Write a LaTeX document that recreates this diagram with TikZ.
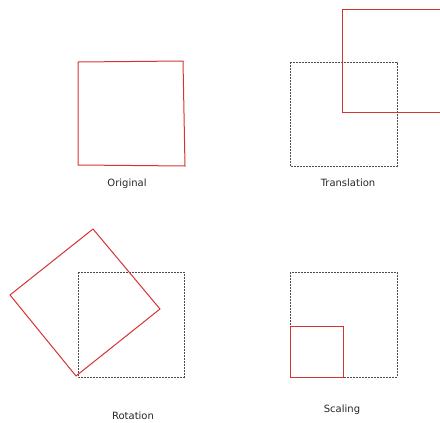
\documentclass[tikz,border=0pt]{standalone}
\usepackage{fontspec}
\setmainfont{DejaVu Sans}
\usepackage{xcolor}
\definecolor{shapered}{RGB}{214,50,50}
\begin{document}
\begin{tikzpicture}[
    x=1pt, y=-1pt,
    redsquare/.style={draw=shapered, line width=1pt},
    ghost/.style={draw=black!70, line width=1pt, dash pattern=on 2pt off 1pt},
    caption/.style={font=\fontsize{10}{12}\selectfont, text=black!85}
]
\useasboundingbox (0,0) rectangle (440,423);
\clip (0,0) rectangle (440,423);

% original
\draw[redsquare] (78,62) -- (183,61) -- (185,166) -- (78,165) -- cycle;
\node[caption] (orig) at (127,184) {Original};

% translation
\draw[ghost] (290,62) rectangle (397,166);
\draw[redsquare] (342,9) rectangle (448,112);
\node[caption] (trans) at (348,183) {Translation};

% rotation
\draw[ghost] (78,272) rectangle (184,377);
\draw[redsquare] (76,376) -- (160,309) -- (93,229) -- (10,295) -- cycle;
\node[caption] (rot) at (133,416) {Rotation};

% scaling
\draw[ghost] (290,272) rectangle (397,377);
\draw[redsquare] (290,326) rectangle (343,377);
\node[caption] (scal) at (342,410) {Scaling};

\end{tikzpicture}
\end{document}
